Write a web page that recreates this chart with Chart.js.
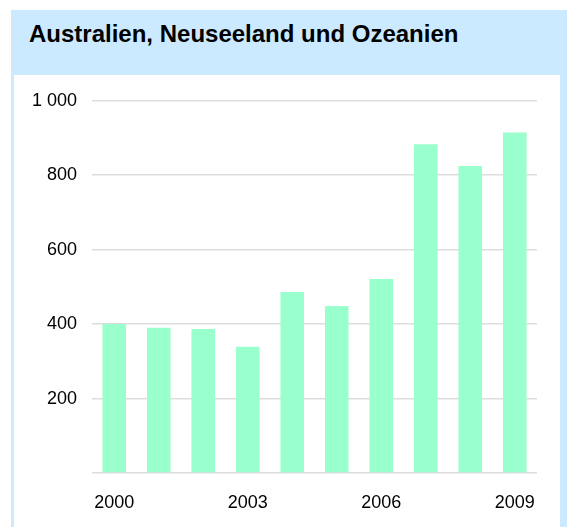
<!DOCTYPE html>
<html lang="de">
<head>
<meta charset="utf-8">
<title>Australien, Neuseeland und Ozeanien</title>
<script src="https://cdn.jsdelivr.net/npm/chart.js@4/dist/chart.umd.min.js"></script>
<style>
  html, body { margin: 0; padding: 0; background: #ffffff; overflow: hidden; }
  body { width: 567px; height: 527px; position: relative; font-family: "Liberation Sans", Arial, Helvetica, sans-serif; }
  .quadro {
    position: absolute; left: 11px; top: 10px; width: 556px; height: 540px;
    background: #cceaff;
  }
  .quadro-titulo {
    position: absolute; left: 18px; top: 10px;
    font-size: 24px; font-weight: bold; color: #000000;
  }
  .quadro-corpo {
    position: absolute; left: 3px; top: 65px; width: 546px; height: 452px;
    background: #ffffff;
  }
</style>
</head>
<body>
  <div class="quadro">
    <div class="quadro-titulo">Australien, Neuseeland und Ozeanien</div>
    <div class="quadro-corpo">
      <canvas id="graficoAnos" width="546" height="452"></canvas>
    </div>
  </div>

<script>
  // Dados do gráfico
  const anos = ['2000', '2001', '2002', '2003', '2004', '2005', '2006', '2007', '2008', '2009'];
  const valores = [400, 390, 387, 339, 486, 449, 521, 883, 825, 915];
  const ticksY = [200, 400, 600, 800, 1000];
  const rotulosX = ['2000', '2003', '2006', '2009'];

  // Formato alemão com espaço como separador de milhar
  function formatarNumero(v) {
    return String(v).replace(/\B(?=(\d{3})+(?!\d))/g, ' ');
  }

  function renderizarGrafico() {
    const canvas = document.getElementById('graficoAnos');
    if (!canvas) return;
    const ctx = canvas.getContext('2d');
    if (window.myChart instanceof Chart) {
      window.myChart.destroy();
    }
    window.myChart = new Chart(ctx, {
      type: 'bar',
      data: {
        labels: anos,
        datasets: [{
          data: valores,
          backgroundColor: '#99ffcc',
          borderWidth: 0,
          barPercentage: 0.53,
          categoryPercentage: 1
        }]
      },
      options: {
        responsive: false,
        animation: false,
        layout: { padding: { left: 0, right: 23, top: 25, bottom: 12 } },
        plugins: {
          legend: { display: false },
          tooltip: { enabled: false }
        },
        scales: {
          x: {
            grid: { display: false },
            border: { display: false },
            ticks: {
              autoSkip: false,
              maxRotation: 0,
              padding: 11,
              color: '#000000',
              font: { family: '"Liberation Sans", Arial, sans-serif', size: 18 },
              callback: (v, i) => rotulosX.includes(anos[i]) ? anos[i] : ''
            },
            afterFit: escala => { escala.height = 42; }
          },
          y: {
            min: 0,
            max: 1000,
            afterBuildTicks: escala => {
              escala.ticks = [0].concat(ticksY).map(v => ({ value: v }));
            },
            grid: { color: '#dddddd', lineWidth: 1.5, drawTicks: false },
            border: { display: false },
            ticks: {
              padding: 15,
              color: '#000000',
              font: { family: '"Liberation Sans", Arial, sans-serif', size: 18 },
              callback: value => value === 0 ? '' : formatarNumero(value)
            },
            afterFit: escala => { escala.width = 78; }
          }
        }
      }
    });
  }

  renderizarGrafico();
</script>
</body>
</html>
